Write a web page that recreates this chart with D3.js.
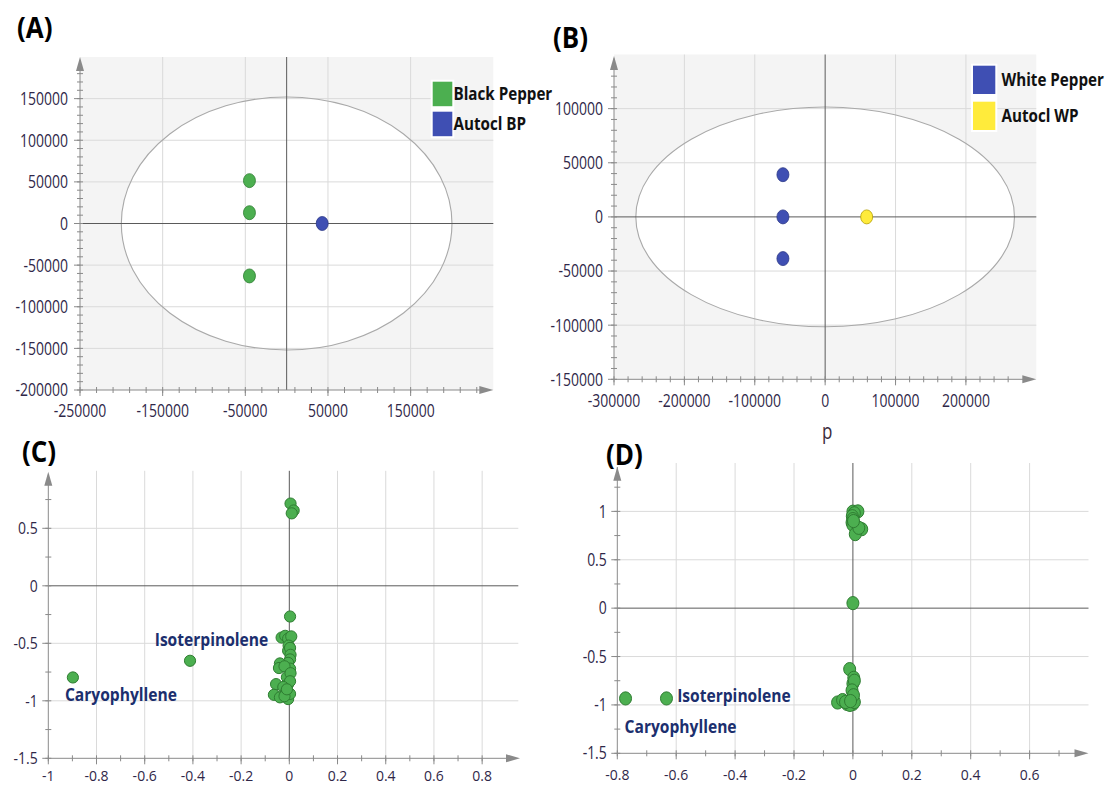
<!DOCTYPE html>
<html>
<head>
<meta charset="utf-8">
<script src="https://cdn.jsdelivr.net/npm/d3@7"></script>
<style>
  html, body { margin: 0; padding: 0; background: #ffffff; }
  svg { display: block; }
</style>
</head>
<body>
<svg id="chart" width="1113" height="786"></svg>
<script>
// ---- Score values (PCA t1 / t2) ----
const blackPepperScores = [[-45000, 51500], [-45000, 13000], [-45000, -63000]];
const autoclBPScores = [[43000, 0]];
const whitePepperScores = [[-60000, 39000], [-60000, 0], [-60000, -38500]];
const autoclWPScores = [[59000, 0]];

// Hotelling T2 ellipse radii for the score plots
const ellipseA = [200000, 152000];
const ellipseB = [269000, 101500];

// ---- Loading values (p1 / p2) ----
const loadingsC = [
  [0.005, 0.715], [0.018, 0.655], [0.01, 0.63],
  [0.003, -0.267],
  [-0.032, -0.45], [-0.017, -0.435], [0.003, -0.45], [-0.005, -0.46], [0.008, -0.44],
  [-0.003, -0.52], [-0.005, -0.565], [0.003, -0.54], [0.005, -0.6],
  [0.003, -0.64], [-0.005, -0.67], [0.003, -0.72], [-0.039, -0.675], [-0.043, -0.715], [-0.02, -0.7],
  [-0.01, -0.795], [0.005, -0.76], [-0.055, -0.855], [-0.005, -0.855], [0.003, -0.83], [-0.025, -0.88],
  [-0.064, -0.948], [-0.039, -0.97], [-0.015, -0.93], [-0.005, -0.985], [0.003, -0.94], [-0.02, -0.96], [-0.01, -0.9],
  [-0.412, -0.652], [-0.898, -0.797]
];
const loadingsD = [
  [0.0, 0.997], [0.017, 1.0], [0.005, 0.98], [-0.002, 0.95], [0.0, 0.92], [-0.003, 0.885],
  [0.0, 0.86], [0.03, 0.816], [0.008, 0.765], [0.02, 0.83], [0.002, 0.9],
  [0.0, 0.052],
  [-0.011, -0.63], [0.003, -0.72], [0.0, -0.78], [0.005, -0.75], [-0.003, -0.85],
  [-0.052, -0.975], [-0.035, -0.95], [-0.02, -0.99], [-0.005, -0.95], [0.0, -0.99],
  [-0.01, -1.0], [0.005, -0.97], [-0.025, -0.97], [0.002, -0.9], [-0.008, -0.96],
  [-0.633, -0.933], [-0.772, -0.933]
];

// Named compounds in the loading plots
const compoundsC = [["Isoterpinolene", -0.412, -0.652], ["Caryophyllene", -0.898, -0.797]];
const compoundsD = [["Isoterpinolene", -0.633, -0.933], ["Caryophyllene", -0.772, -0.933]];

// ---- Tick labels ----
const ticksAx = [-250000, -150000, -50000, 50000, 150000];
const ticksAy = [150000, 100000, 50000, 0, -50000, -100000, -150000, -200000];
const ticksBx = [-300000, -200000, -100000, 0, 100000, 200000];
const ticksBy = [100000, 50000, 0, -50000, -100000, -150000];
const ticksCx = [-1, -0.8, -0.6, -0.4, -0.2, 0, 0.2, 0.4, 0.6, 0.8];
const ticksCy = [0.5, 0, -0.5, -1, -1.5];
const ticksDx = [-0.8, -0.6, -0.4, -0.2, 0, 0.2, 0.4, 0.6];
const ticksDy = [1, 0.5, 0, -0.5, -1, -1.5];

const GREEN = "#4caf50", GREEN_EDGE = "#2f7d32";
const BLUE = "#3f4fb3", BLUE_EDGE = "#2b3787";
const YELLOW = "#ffeb3b", YELLOW_EDGE = "#b59f00";
const TICK_COLOR = "#2f2748";
const NAME_COLOR = "#1c2f6e";
const FONT = "'Open Sans', 'Noto Sans', sans-serif";

const svg = d3.select("#chart");

// text drawn with a vertical stretch factor
function stretchText(parent, x, y, str, o) {
  const g = parent.append("g")
    .attr("transform", `translate(${x},${y}) scale(1,${o.sy || 1})`);
  return g.append("text")
    .attr("x", 0).attr("y", 0)
    .attr("dy", o.dy || "0.35em")
    .attr("text-anchor", o.anchor || "start")
    .attr("font-family", FONT)
    .attr("font-size", o.size || 14)
    .attr("font-weight", o.weight || "normal")
    .attr("fill", o.fill || TICK_COLOR)
    .text(str);
}

function range(a, b, step) {
  const out = [];
  const n = Math.round((b - a) / step);
  for (let i = 0; i <= n; i++) out.push(+(a + i * step).toFixed(6));
  return out;
}

function drawPanel(p) {
  const g = svg.append("g");
  const x = d3.scaleLinear().domain(p.xDomain).range(p.xRange);
  const y = d3.scaleLinear().domain(p.yDomain).range(p.yRange);
  const [L, R] = p.xRange;
  const [B, T] = p.yRange;

  if (p.bg) {
    g.append("rect").attr("x", L).attr("y", T).attr("width", R - L).attr("height", B - T).attr("fill", p.bg);
  }
  if (p.ellipse) {
    g.append("ellipse")
      .attr("cx", x(0)).attr("cy", y(0))
      .attr("rx", x(p.ellipse[0]) - x(0)).attr("ry", y(0) - y(p.ellipse[1]))
      .attr("fill", "#ffffff");
  }
  // grid
  p.xTicks.filter(v => v !== 0 && x(v) > L + 0.5).forEach(v => {
    g.append("line").attr("x1", x(v)).attr("x2", x(v)).attr("y1", T).attr("y2", B)
      .attr("stroke", "#dadada").attr("stroke-width", 1);
  });
  p.yTicks.filter(v => v !== 0 && y(v) < B - 0.5).forEach(v => {
    g.append("line").attr("x1", L).attr("x2", R).attr("y1", y(v)).attr("y2", y(v))
      .attr("stroke", "#dadada").attr("stroke-width", 1);
  });
  if (p.ellipse) {
    g.append("ellipse")
      .attr("cx", x(0)).attr("cy", y(0))
      .attr("rx", x(p.ellipse[0]) - x(0)).attr("ry", y(0) - y(p.ellipse[1]))
      .attr("fill", "none").attr("stroke", "#a9a9a9").attr("stroke-width", 1.1);
  }
  // zero lines
  g.append("line").attr("x1", x(0)).attr("x2", x(0)).attr("y1", T).attr("y2", B)
    .attr("stroke", "#5a5a5a").attr("stroke-width", 1);
  g.append("line").attr("x1", L).attr("x2", R).attr("y1", y(0)).attr("y2", y(0))
    .attr("stroke", "#5a5a5a").attr("stroke-width", 1);

  // axes
  const AX = "#8a8a8a";
  g.append("line").attr("x1", L).attr("x2", L).attr("y1", B).attr("y2", T + 4).attr("stroke", AX);
  g.append("line").attr("x1", L).attr("x2", R - 4).attr("y1", B).attr("y2", B).attr("stroke", AX);
  g.append("path").attr("d", `M${L},${p.yArrowTip} L${L - 4},${p.yArrowTip + 14} L${L + 4},${p.yArrowTip + 14} Z`).attr("fill", AX);
  g.append("path").attr("d", `M${p.xArrowTip},${B} L${p.xArrowTip - 14},${B - 4} L${p.xArrowTip - 14},${B + 4} Z`).attr("fill", AX);

  // minor ticks
  range(p.yDomain[0], p.yDomain[1], p.yMinor).forEach(v => {
    if (y(v) < p.yArrowTip + 16) return;
    g.append("line").attr("x1", L - 3).attr("x2", L + 3).attr("y1", y(v)).attr("y2", y(v)).attr("stroke", AX);
  });
  range(p.xDomain[0], p.xDomain[1], p.xMinor).forEach(v => {
    if (x(v) > p.xArrowTip - 16) return;
    g.append("line").attr("x1", x(v)).attr("x2", x(v)).attr("y1", B - 3).attr("y2", B + 3).attr("stroke", AX);
  });
  // major ticks and labels
  p.yTicks.forEach(v => {
    g.append("line").attr("x1", L - 6).attr("x2", L).attr("y1", y(v)).attr("y2", y(v)).attr("stroke", AX);
    stretchText(g, L - p.yLabelGap, y(v), String(v), { anchor: "end", size: p.tickSize, sy: p.tickSY });
  });
  p.xTicks.forEach(v => {
    g.append("line").attr("x1", x(v)).attr("x2", x(v)).attr("y1", B).attr("y2", B + 6).attr("stroke", AX);
    stretchText(g, x(v), B + p.xLabelGap, String(v), { anchor: "middle", size: p.tickSize, sy: p.xTickSY || p.tickSY });
  });

  return { g, x, y };
}

function drawScores(panel, data, fill, edge, rx, ry) {
  panel.g.append("g").selectAll("ellipse").data(data).join("ellipse")
    .attr("cx", d => panel.x(d[0])).attr("cy", d => panel.y(d[1]))
    .attr("rx", rx).attr("ry", ry)
    .attr("fill", fill).attr("stroke", edge).attr("stroke-width", 0.8);
}

function drawLegend(entries, x0, y0, w, h, gap, textX, fontSize) {
  const g = svg.append("g");
  g.append("rect").attr("x", x0 - 2).attr("y", y0 - 2)
    .attr("width", w + 4).attr("height", entries.length * h + (entries.length - 1) * gap + 4)
    .attr("fill", "#ffffff");
  entries.forEach((e, i) => {
    const yy = y0 + i * (h + gap);
    g.append("rect").attr("x", x0).attr("y", yy).attr("width", w).attr("height", h).attr("fill", e[1]);
    stretchText(g, textX, yy + h / 2, e[0], { size: fontSize, weight: "bold", fill: "#111", sy: 1.15 });
  });
}

// ---- (A) Black pepper score plot ----
const pA = drawPanel({
  xDomain: [-250000, 250000], xRange: [80, 493.3],
  yDomain: [-200000, 200000], yRange: [390, 57],
  xTicks: ticksAx, yTicks: ticksAy, xMinor: 20000, yMinor: 10000,
  bg: "#f4f4f4", ellipse: ellipseA,
  yArrowTip: 57, xArrowTip: 493.3,
  yLabelGap: 12, xLabelGap: 21, tickSize: 14, tickSY: 1.3
});
drawScores(pA, blackPepperScores, GREEN, GREEN_EDGE, 6, 7);
drawScores(pA, autoclBPScores, BLUE, BLUE_EDGE, 6, 7);
drawLegend([["Black Pepper", GREEN], ["Autocl BP", BLUE]], 432.7, 81.7, 19.6, 24.5, 5.5, 453.5, 15.2);

// ---- (B) White pepper score plot ----
const pB = drawPanel({
  xDomain: [-300000, 300000], xRange: [614, 1036.3],
  yDomain: [-150000, 150000], yRange: [379.3, 54.5],
  xTicks: ticksBx, yTicks: ticksBy, xMinor: 20000, yMinor: 10000,
  bg: "#f4f4f4", ellipse: ellipseB,
  yArrowTip: 56, xArrowTip: 1036.3,
  yLabelGap: 11, xLabelGap: 21, tickSize: 14, tickSY: 1.3
});
drawScores(pB, whitePepperScores, BLUE, BLUE_EDGE, 6, 7);
drawScores(pB, autoclWPScores, YELLOW, YELLOW_EDGE, 6, 7);
drawLegend([["White Pepper", BLUE], ["Autocl WP", YELLOW]], 973, 65.7, 22.3, 28.3, 7.7, 1001.5, 15.2);
stretchText(svg, 827.3, 437, "p", { anchor: "middle", size: 17, sy: 1.25, fill: "#3a2a3a", dy: "0.1em" });

// ---- (C) Black pepper loading plot ----
const pC = drawPanel({
  xDomain: [-1, 0.95], xRange: [48.3, 518.3],
  yDomain: [-1.5, 1], yRange: [758.3, 470.8],
  xTicks: ticksCx, yTicks: ticksCy, xMinor: 0.1, yMinor: 0.25,
  bg: null, ellipse: null,
  yArrowTip: 471.7, xArrowTip: 520,
  yLabelGap: 10.5, xLabelGap: 17.5, tickSize: 14, tickSY: 1.22, xTickSY: 1.08
});
pC.g.append("g").selectAll("circle").data(loadingsC).join("circle")
  .attr("cx", d => pC.x(d[0])).attr("cy", d => pC.y(d[1])).attr("r", 5.6)
  .attr("fill", GREEN).attr("stroke", GREEN_EDGE).attr("stroke-width", 1);
const offC = { "Isoterpinolene": [-35.3, -21], "Caryophyllene": [-8, 17.3] };
compoundsC.forEach(c => {
  stretchText(pC.g, pC.x(c[1]) + offC[c[0]][0], pC.y(c[2]) + offC[c[0]][1], c[0],
    { size: 15.6, weight: "bold", fill: NAME_COLOR, sy: 1.1 });
});

// ---- (D) White pepper loading plot ----
const pD = drawPanel({
  xDomain: [-0.8, 0.8], xRange: [617.3, 1088.5],
  yDomain: [-1.5, 1.5], yRange: [753.3, 463],
  xTicks: ticksDx, yTicks: ticksDy, xMinor: 0.1, yMinor: 0.25,
  bg: null, ellipse: null,
  yArrowTip: 466.7, xArrowTip: 1088.5,
  yLabelGap: 10.5, xLabelGap: 21.5, tickSize: 14, tickSY: 1.25, xTickSY: 1.08
});
pD.g.append("g").selectAll("ellipse").data(loadingsD).join("ellipse")
  .attr("cx", d => pD.x(d[0])).attr("cy", d => pD.y(d[1])).attr("rx", 6).attr("ry", 6.6)
  .attr("fill", GREEN).attr("stroke", GREEN_EDGE).attr("stroke-width", 1);
const offD = { "Isoterpinolene": [10.7, -2], "Caryophyllene": [-1, 28.4] };
compoundsD.forEach(c => {
  stretchText(pD.g, pD.x(c[1]) + offD[c[0]][0], pD.y(c[2]) + offD[c[0]][1], c[0],
    { size: 15.6, weight: "bold", fill: NAME_COLOR, sy: 1.1 });
});

// ---- panel letters ----
[["(A)", 17, 28], ["(B)", 553, 38], ["(C)", 22, 452], ["(D)", 606, 455]].forEach(l => {
  stretchText(svg, l[1], l[2], l[0], { size: 26, weight: "bold", fill: "#000", sy: 1.12 });
});
</script>
</body>
</html>
